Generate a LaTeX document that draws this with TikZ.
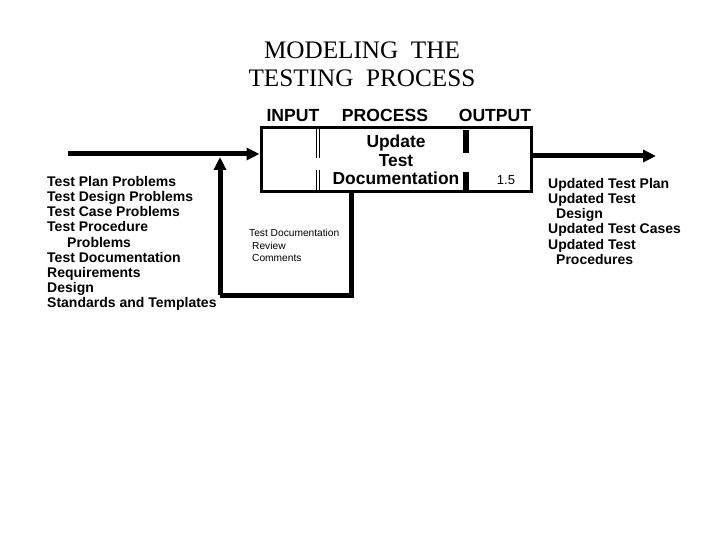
\documentclass[tikz,border=0pt]{standalone}
\usepackage{fontspec}
\setmainfont{Liberation Serif}
\setsansfont{Liberation Sans}
\usetikzlibrary{arrows.meta}
\newcommand\myfixlines{\lineskiplimit=-30pt\relax}
\begin{document}
\begin{tikzpicture}[x=1pt,y=-1pt,
  flow/.style={line width=5pt,-{Triangle[length=13pt,width=12pt]}},
  plain/.style={line width=5pt},
  lbl/.style={inner sep=0pt,align=left,font=\sffamily\bfseries\fontsize{14}{15.2}\selectfont\myfixlines},
  hdr/.style={inner sep=0pt,anchor=base,font=\sffamily\bfseries\fontsize{17.6}{20}\selectfont},
  small/.style={inner sep=0pt,align=left,font=\sffamily\fontsize{10.2}{12.5}\selectfont\myfixlines}]
\useasboundingbox[fill=white] (0,0) rectangle (720,540);
% title
\node[inner sep=0pt,align=center,font=\rmfamily\fontsize{25.2}{28}\selectfont\myfixlines] (title) at (362,64)
  {MODELING\ \ THE\\TESTING\ \ PROCESS};
% headers
\node[hdr] (hin) at (293,121.5) {INPUT};
\node[hdr] (hproc) at (385,121.5) {PROCESS};
\node[hdr] (hout) at (495,121.5) {OUTPUT};
% process box
\node[draw,line width=3pt,minimum width=270pt,minimum height=64pt,inner sep=0pt,align=center,
  font=\sffamily\bfseries\fontsize{17.4}{18.5}\selectfont\myfixlines] (proc) at (396,160)
  {Update\\Test\\Documentation};
% box inner marks
\draw[line width=1pt] (316.5,128) -- (316.5,158) (319.5,128) -- (319.5,158)
  (316.5,170) -- (316.5,192) (319.5,170) -- (319.5,192);
\draw[line width=6pt] (466,130) -- (466,153) (466,172) -- (466,192);
\node[inner sep=0pt,font=\sffamily\fontsize{13}{15}\selectfont] (num) at (506,180) {1.5};
% input
\coordinate (inS) at (68,154);
\draw[flow] (inS) -- (inS -| proc.west);
% output
\coordinate (outE) at (656,156);
\draw[flow] (outE -| proc.east) -- (outE);
% feedback loop
\coordinate (fbA) at (351,295);
\coordinate (fbB) at (220,295);
\coordinate (fbC) at (220,157);
\draw[plain] (proc.south -| fbA) -- (fbA) -- (fbB);
\draw[flow] (fbB) -- (fbC);
% texts
\node[lbl,anchor=north west] (inputs) at (47,176)
  {Test Plan Problems\\Test Design Problems\\Test Case Problems\\Test Procedure\\\hspace*{20pt}Problems\\Test Documentation\\Requirements\\Design\\Standards and Templates};
\node[small,anchor=north west] (ctrl) at (249,229)
  {Test Documentation\\\hspace*{3pt}Review\\\hspace*{3pt}Comments};
\node[lbl,anchor=north west] (outputs) at (548,178)
  {Updated Test Plan\\Updated Test\\\hspace*{8pt}Design\\Updated Test Cases\\Updated Test\\\hspace*{8pt}Procedures};
\end{tikzpicture}
\end{document}
